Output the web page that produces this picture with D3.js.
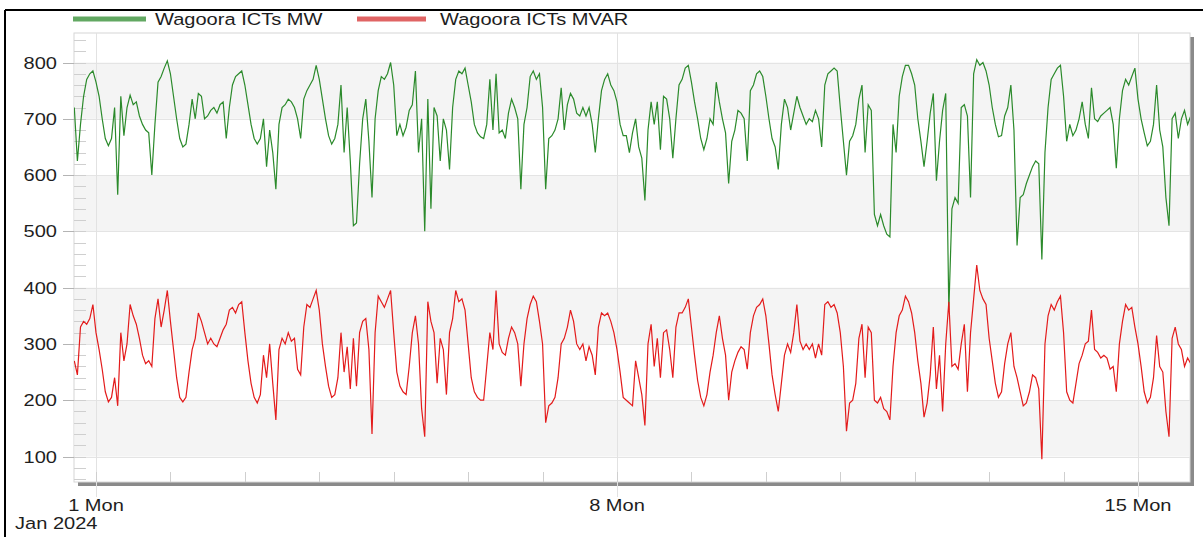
<!DOCTYPE html>
<html><head><meta charset="utf-8">
<script src="https://cdn.jsdelivr.net/npm/d3@7"></script>
<style>
html,body{margin:0;padding:0;background:#fff;}
svg{display:block;}
text{font-family:"Liberation Sans",Arial,sans-serif;font-size:17px;fill:#1e1e1e;}
</style></head><body>
<svg id="chart" width="1203" height="537"></svg>
<script>
// ---------------- data ----------------
const seriesNames = ["Wagoora ICTs MW", "Wagoora ICTs MVAR"];
const startTime = "2023-12-31T17:00:00";   // first sample
const stepHours = 1;                        // hourly samples
const mwValues = [
720,625,690,740,770,780,785,765,740,700,665,
652,665,720,565,740,670,720,742,725,730,
705,690,680,675,600,690,765,775,790,803,
780,740,700,665,650,655,690,735,700,745,
740,700,705,715,720,710,725,730,665,720,
760,775,780,785,760,725,690,665,655,665,
700,615,680,640,575,690,720,725,735,730,
720,700,665,735,750,760,770,795,770,735,
700,670,655,665,690,760,640,720,625,510,
515,620,700,735,660,560,700,750,775,770,
780,800,760,670,690,670,685,715,725,785,
640,700,500,735,540,720,705,625,700,680,
610,720,770,785,780,790,760,730,690,675,
668,665,690,770,680,780,675,680,665,710,
735,720,700,575,690,720,775,785,770,780,
720,575,665,670,680,700,755,680,725,745,
735,710,705,720,705,720,690,640,700,750,
770,780,760,750,730,690,670,670,640,675,
700,650,630,555,680,730,690,730,645,740,
735,700,630,700,760,770,790,795,765,730,
700,665,645,665,700,690,765,730,700,675,
585,660,680,715,710,700,625,750,760,780,
785,775,740,700,665,650,610,690,735,720,
680,710,740,720,705,690,700,695,715,700,
650,760,780,785,790,785,720,660,600,660,
670,690,735,760,640,725,715,530,510,530,
510,495,490,690,640,740,775,795,795,780,
760,700,660,615,660,710,745,590,660,715,
745,360,540,560,550,720,725,705,560,780,
805,795,800,785,760,720,690,668,670,705,
720,760,680,475,560,565,585,600,615,625,
620,450,640,720,770,780,790,795,740,660,
690,670,680,700,730,690,665,755,700,695,
705,710,715,720,690,612,700,750,770,760,
775,790,735,700,675,652,660,690,760,680,
650,560,510,700,710,665,700,715,690,705
];
const mvarValues = [
270,245,330,340,335,345,370,320,290,255,215,
197,205,240,190,320,270,300,370,350,335,
310,280,265,270,260,345,380,330,360,395,
340,290,240,205,197,205,250,290,310,355,
340,320,300,310,300,295,310,325,335,360,
365,355,370,375,320,270,230,205,195,210,
280,240,300,230,165,290,310,300,320,305,
310,255,245,330,370,365,380,395,360,300,
260,225,205,210,240,320,250,295,220,310,
225,320,340,345,290,140,320,385,375,365,
380,395,320,250,225,215,210,260,320,350,
300,185,135,375,340,320,230,310,290,210,
320,345,395,375,380,360,300,240,215,205,
200,200,260,320,290,395,300,285,280,310,
330,320,300,225,300,345,370,385,375,340,
300,160,190,195,205,240,300,310,330,360,
340,300,290,300,270,295,280,245,330,355,
350,355,340,320,290,250,205,200,195,190,
270,240,210,155,300,335,260,310,240,320,
325,290,240,330,355,355,365,380,330,280,
235,205,190,210,250,280,320,350,310,280,
200,250,270,285,295,290,255,320,350,365,
370,380,350,300,245,210,180,230,280,300,
285,320,370,305,290,300,290,300,275,300,
280,370,375,365,370,355,320,260,145,195,
200,230,310,335,240,330,320,200,195,205,
185,180,165,260,320,350,360,385,375,355,
320,270,230,170,195,245,330,220,280,180,
300,375,260,265,255,300,335,215,320,380,
440,395,380,370,310,270,230,205,215,265,
300,320,260,240,215,190,195,215,245,240,
220,95,300,350,370,360,375,385,320,215,
200,195,230,265,280,300,305,360,290,285,
275,280,275,255,260,215,300,340,370,360,
365,330,300,260,215,195,205,240,315,260,
250,180,135,310,330,300,290,260,275,265
];
const yTicks = [100, 200, 300, 400, 500, 600, 700, 800];
const yBands = [[100, 200], [300, 400], [500, 600], [700, 800]];
const xMajorTicks = ["2024-01-01", "2024-01-08", "2024-01-15"];
const yearLabel = "Jan 2024";

// ---------------- layout ----------------
const W = 1203, H = 537;
const plot = {left: 74, right: 1190, top: 33, bottom: 482};
const colors = {mw: "#2b8a2b", mvar: "#e31b1b", mwLegend: "#62a862", mvarLegend: "#e06464"};
const stretch = 1.18;

const parseT = d3.timeParse("%Y-%m-%dT%H:%M:%S");
const parseD = d3.timeParse("%Y-%m-%d");
const t0 = parseT(startTime);
const mwData = mwValues.map((v, i) => ({t: d3.timeHour.offset(t0, i * stepHours), v}));
const mvarData = mvarValues.map((v, i) => ({t: d3.timeHour.offset(t0, i * stepHours), v}));
const majorDates = xMajorTicks.map(parseD);

const x = d3.scaleTime()
  .domain([majorDates[0], majorDates[2]])
  .range([96, 1138]);
const y = d3.scaleLinear().domain([100, 800]).range([456.5, 62.5]);

const svg = d3.select("#chart");

function txt(g, s, tx, ty, anchor) {
  return g.append("text")
    .attr("transform", `translate(${tx},${ty}) scale(${stretch},1)`)
    .attr("text-anchor", anchor || "start")
    .text(s);
}

// outer black frame (top + left)
svg.append("line").attr("x1", 5).attr("x2", W).attr("y1", 10).attr("y2", 10)
  .attr("stroke", "#000").attr("stroke-width", 2);
svg.append("line").attr("x1", 5).attr("x2", 5).attr("y1", 10).attr("y2", H)
  .attr("stroke", "#000").attr("stroke-width", 2);

// legend
const leg = svg.append("g");
leg.append("line").attr("x1", 73).attr("x2", 146).attr("y1", 19).attr("y2", 19)
  .attr("stroke", colors.mwLegend).attr("stroke-width", 5);
txt(leg, seriesNames[0], 155, 25);
leg.append("line").attr("x1", 357).attr("x2", 426).attr("y1", 19).attr("y2", 19)
  .attr("stroke", colors.mvarLegend).attr("stroke-width", 5);
txt(leg, seriesNames[1], 440, 25);

// plot shadow + background
svg.append("rect").attr("x", plot.left + 4).attr("y", plot.top + 4)
  .attr("width", plot.right - plot.left).attr("height", plot.bottom - plot.top)
  .attr("fill", "#8a8a8a");
svg.append("rect").attr("x", plot.left).attr("y", plot.top)
  .attr("width", plot.right - plot.left).attr("height", plot.bottom - plot.top)
  .attr("fill", "#fff").attr("stroke", "#d6d6d6").attr("stroke-width", 1);

// bands
svg.append("g").selectAll("rect").data(yBands).join("rect")
  .attr("x", plot.left + 0.5).attr("width", plot.right - plot.left - 1)
  .attr("y", d => y(d[1])).attr("height", d => y(d[0]) - y(d[1]))
  .attr("fill", "#f4f4f4");

// horizontal grid
svg.append("g").selectAll("line").data(yTicks).join("line")
  .attr("x1", plot.left).attr("x2", plot.right)
  .attr("y1", d => Math.round(y(d)) + 0.5).attr("y2", d => Math.round(y(d)) + 0.5)
  .attr("stroke", "#e4e4e4");

// vertical major grid (extends below axis)
svg.append("g").selectAll("line").data(majorDates).join("line")
  .attr("x1", d => Math.round(x(d)) + 0.5).attr("x2", d => Math.round(x(d)) + 0.5)
  .attr("y1", plot.top).attr("y2", 497)
  .attr("stroke", "#e2e2e2");

// y minor ticks (every 20) inside plot
const yMinor = d3.range(60, 860, 20).filter(v => y(v) > plot.top + 1 && y(v) < plot.bottom - 1);
svg.append("g").selectAll("line").data(yMinor).join("line")
  .attr("x1", plot.left).attr("x2", plot.left + 12)
  .attr("y1", d => Math.round(y(d)) + 0.5).attr("y2", d => Math.round(y(d)) + 0.5)
  .attr("stroke", "#cfcfcf");

// y axis major ticks + labels
const yAx = svg.append("g");
yAx.selectAll("line").data(yTicks).join("line")
  .attr("x1", 63).attr("x2", plot.left)
  .attr("y1", d => Math.round(y(d)) + 0.5).attr("y2", d => Math.round(y(d)) + 0.5)
  .attr("stroke", "#b4b4b4");
yTicks.forEach(v => txt(yAx, String(v), 57, y(v) + 6, "end"));

// x minor (daily) ticks
const days = d3.timeDay.range(d3.timeDay.ceil(t0), mwData[mwData.length - 1].t);
svg.append("g").selectAll("line").data(days).join("line")
  .attr("x1", d => Math.round(x(d)) + 0.5).attr("x2", d => Math.round(x(d)) + 0.5)
  .attr("y1", plot.bottom - 10).attr("y2", plot.bottom)
  .attr("stroke", "#cfcfcf");

// x labels
const fmt = d3.timeFormat("%-d %a");
const xAx = svg.append("g");
majorDates.forEach(d => txt(xAx, fmt(d), x(d), 511, "middle"));
txt(xAx, yearLabel, 15, 529);

// lines
svg.append("clipPath").attr("id", "clip").append("rect")
  .attr("x", plot.left).attr("y", plot.top)
  .attr("width", plot.right - plot.left).attr("height", plot.bottom - plot.top);
const line = d3.line().x(d => x(d.t)).y(d => y(d.v));
const lines = svg.append("g").attr("clip-path", "url(#clip)");
lines.append("path").datum(mwData).attr("d", line)
  .attr("fill", "none").attr("stroke", colors.mw).attr("stroke-width", 1.2)
  .attr("stroke-linejoin", "miter");
lines.append("path").datum(mvarData).attr("d", line)
  .attr("fill", "none").attr("stroke", colors.mvar).attr("stroke-width", 1.2)
  .attr("stroke-linejoin", "miter");
</script>
</body></html>
